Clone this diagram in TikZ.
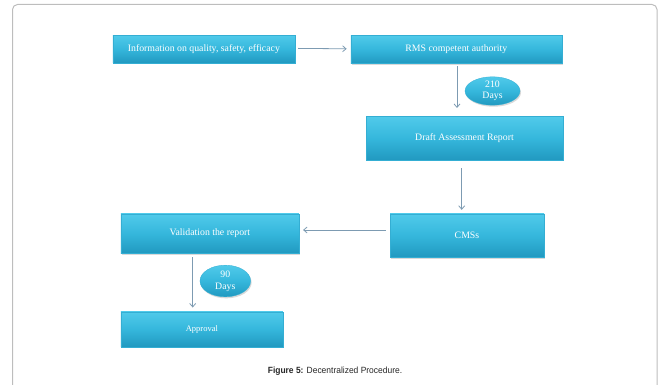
\documentclass[tikz,border=0pt]{standalone}
\usepackage{fontspec}
\setmainfont{Liberation Serif}
\setsansfont{Liberation Sans}
\usetikzlibrary{arrows.meta,calc,shadows,shapes.geometric}

\definecolor{boxtop}{HTML}{50CAEA}
\definecolor{boxmid}{HTML}{35B7DC}
\definecolor{boxbot}{HTML}{2199C0}
\definecolor{boxedge}{HTML}{34AED3}
\definecolor{arrowcol}{HTML}{7D9BB2}
\definecolor{framecol}{HTML}{BDBDBD}

\tikzset{
  stagebox/.style={rectangle, inner sep=0pt, draw=boxedge, line width=0.3pt,
    top color=boxtop, bottom color=boxbot, middle color=boxmid,
    text=white, font=\fontsize{9.8}{11}\selectfont, align=center,
    drop shadow={shadow xshift=1pt, shadow yshift=-1.5pt, opacity=0.25, fill=black!60}},
  daysbubble/.style={ellipse, inner sep=0pt, draw=boxedge, line width=0.3pt,
    top color=boxtop, bottom color=boxbot, middle color=boxmid,
    text=white, font=\fontsize{9.8}{11}\selectfont, align=center,
    drop shadow={shadow xshift=1pt, shadow yshift=-1.5pt, opacity=0.25, fill=black!60}},
  flow/.style={draw=arrowcol, line width=0.8pt,
    -{Straight Barb[length=3.5pt,width=6pt]}},
}

\begin{document}
\begin{tikzpicture}[x=1pt,y=-1pt]
  \useasboundingbox (0,0) rectangle (662,385);
  \clip (0,0) rectangle (662,385);

  % page frame
  \draw[framecol, line width=1pt, rounded corners=5pt] (12.5,4.5) rectangle (657,400);

  % process stages
  \node[stagebox, minimum width=182pt, minimum height=27.7pt] (info) at (203.9,48.9)
    {Information on quality, safety, efficacy};
  \node[stagebox, minimum width=211pt, minimum height=28pt] (rms) at (456.3,49.3)
    {RMS competent authority};
  \node[stagebox, minimum width=197pt, minimum height=43.3pt] (draft) at (464.5,138.3)
    {Draft Assessment Report};
  \node[stagebox, minimum width=154pt, minimum height=43pt] (cms) at (467,235.5)
    {CMSs};
  \node[stagebox, minimum width=178pt, minimum height=39pt] (valid) at (209.9,233.5)
    {Validation the report};
  \node[stagebox, minimum width=162pt, minimum height=35pt,
    font=\fontsize{8.5}{10}\selectfont] (appr) at (201.9,329.2)
    {Approval};

  % time limits
  \node[daysbubble, minimum width=55pt, minimum height=28pt] (d210) at (492.5,91)
    {210\\[0.5pt]Days};
  \node[daysbubble, minimum width=50.7pt, minimum height=31.7pt] (d90) at (225.3,281)
    {90\\[1pt]Days};

  % connectors
  \draw[flow] ($(info.east)+(3,-0.5)$) -- ($(rms.west)+(-4,-0.5)$);
  \draw[flow] ($(rms.south)+(0.7,3)$) -- ($(rms.south |- draft.north)+(0.7,-8.5)$);
  \draw[flow] ($(draft.south)+(-2.8,8)$) -- ($(draft.south |- cms.north)+(-2.8,-4)$);
  \draw[flow] ($(cms.west)+(-4,-5.5)$) -- ($(valid.east |- cms.west)+(4,-5.5)$);
  \draw[flow] ($(valid.south)+(-17.2,4)$) -- ($(valid.south |- appr.north)+(-17.2,-4)$);

  % caption
  \node[font=\sffamily\fontsize{9}{10}\selectfont, xscale=0.94, text=black!85] (caption) at (335,370.7)
    {\textbf{Figure 5:} Decentralized Procedure.};
\end{tikzpicture}
\end{document}
